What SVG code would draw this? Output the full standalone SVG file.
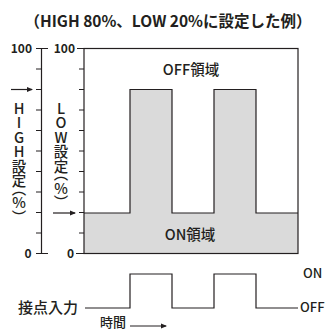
<svg xmlns="http://www.w3.org/2000/svg" width="325" height="329" viewBox="0 0 325 329">
<style>
text{font-family:"Noto Sans CJK JP","Noto Sans",sans-serif;fill:#231f20}
.ln{stroke:#231f20;stroke-width:1.2;fill:none}
.tk{stroke:#231f20;stroke-width:1;fill:none}
.num{font-size:12px;font-weight:bold}
.vt{font-size:14.5px;font-weight:500;writing-mode:vertical-rl;text-orientation:upright;font-feature-settings:"vhal"}
</style>
<defs>
<marker id="ah" markerWidth="6" markerHeight="6" refX="5" refY="3" orient="auto" markerUnits="userSpaceOnUse">
<path d="M0,0.5 L6,3 L0,5.5 Z" fill="#231f20"/>
</marker>
</defs>
<rect width="325" height="329" fill="#fff"/>
<g id="title"><text x="168" y="27" font-size="15.5" font-weight="bold" text-anchor="middle">（HIGH 80%、LOW 20%に設定した例）</text></g>
<g id="chart">
<path d="M84,213 H130 V89.5 H172 V213 H214 V89.5 H256 V213 H298 V253.5 H84 Z" fill="#dadada" stroke="none"/>
<path class="ln" d="M84,213 H130 V89.5 H172 V213 H214 V89.5 H256 V213 H298"/>
<rect class="ln" x="84" y="48.5" width="214" height="205"/>
<text x="191" y="75" font-size="14.5" font-weight="500" text-anchor="middle">OFF領域</text>
<text x="190" y="240" font-size="14.5" font-weight="500" text-anchor="middle">ON領域</text>
</g>
<g id="high-axis">
<path class="ln" d="M41.5,48.5 V253.5 M36,48.5 H48 M36,253.5 H48"/>
<path class="tk" d="M36,69 H41.5 M36,89.5 H41.5 M36,110 H41.5 M36,130.5 H41.5 M36,151 H41.5 M36,171.5 H41.5 M36,192 H41.5 M36,212.5 H41.5 M36,233 H41.5"/>
<text class="num" x="32" y="53" text-anchor="end">100</text>
<text class="num" x="31.5" y="258" text-anchor="end">0</text>
<text class="vt" x="19" y="101">HIGH設定（%）</text>
</g>
<g id="low-axis">
<path class="ln" d="M77,48.5 H84 M76,253.5 H84"/>
<path class="tk" d="M79,69 H84 M79,89.5 H84 M79,110 H84 M79,130.5 H84 M79,151 H84 M79,171.5 H84 M79,192 H84 M79,212.5 H84 M79,233 H84"/>
<text class="num" x="75" y="53" text-anchor="end">100</text>
<text class="num" x="74" y="258" text-anchor="end">0</text>
<text class="vt" x="61" y="101">LOW設定（%）</text>
</g>
<g id="signal">
<text x="18" y="313" font-size="15" font-weight="500">接点入力</text>
<text x="303" y="278" font-size="13" font-weight="500">ON</text>
<text x="300" y="312" font-size="13" font-weight="500">OFF</text>
<text x="100" y="326.5" font-size="13" font-weight="500">時間</text>
</g>
<g id="connectors">
<path class="ln" d="M11,89.5 H32" marker-end="url(#ah)"/>
<path class="ln" d="M53,213 H75" marker-end="url(#ah)"/>
<path class="ln" d="M85,308 H130 V274 H172 V308 H214 V274 H256 V308 H298"/>
<path class="tk" d="M130,326 H166" marker-end="url(#ah)"/>
</g>
</svg>
